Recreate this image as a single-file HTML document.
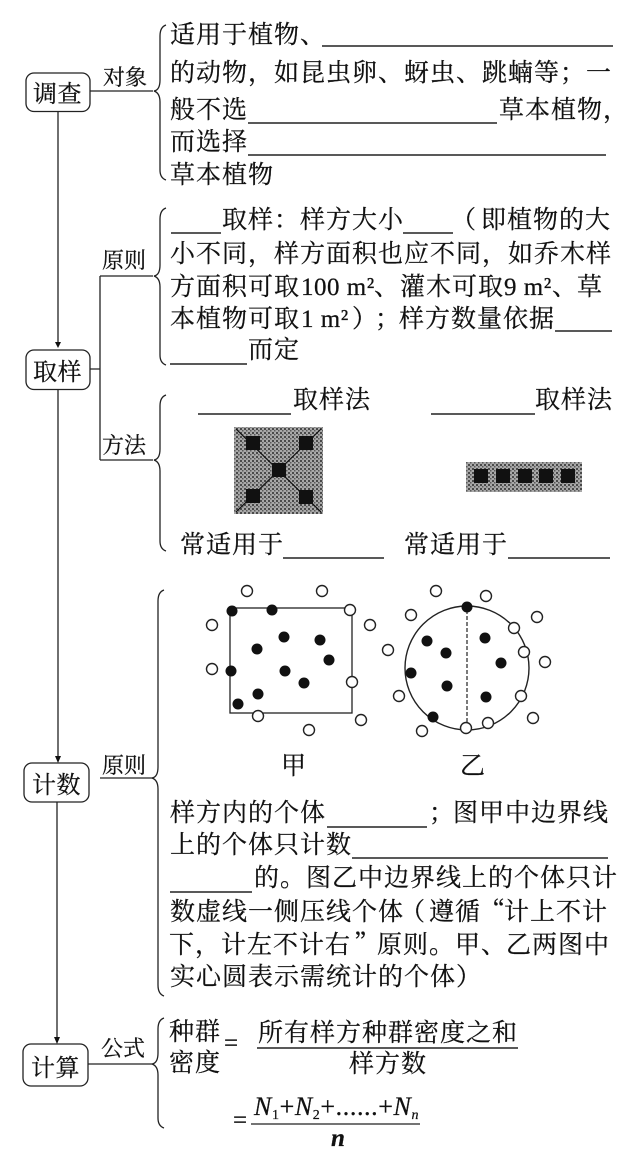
<!DOCTYPE html>
<html><head><meta charset="utf-8"><style>
html,body{margin:0;padding:0;background:#fff}
svg{display:block}
text{font-family:"Liberation Serif","Noto Serif CJK SC",serif;font-size:25px;fill:#111;letter-spacing:1px;stroke:#111;stroke-width:.25px}
.j{font-family:"Noto Serif CJK SC",serif}
.l{font-size:22px;letter-spacing:0}
.b{font-size:24px;letter-spacing:.5px}
.u{stroke:#222;stroke-width:1.5;fill:none}
.c{stroke:#222;stroke-width:1.3;fill:none}
.o{fill:#fff;stroke:#222;stroke-width:1.4}
.k{fill:#111}
.i{font-style:italic}
</style></head><body>
<svg width="639" height="1160" viewBox="0 0 639 1160" xmlns="http://www.w3.org/2000/svg">
<defs>
<pattern id="n" width="4" height="4" patternUnits="userSpaceOnUse"><rect width="4" height="4" fill="#a8a8a8"/><rect width="2" height="2" fill="#4a4a4a"/><rect x="2" y="2" width="1.5" height="1.5" fill="#5a5a5a"/></pattern>
</defs>
<rect width="639" height="1160" fill="#fff"/>

<!-- boxes -->
<g class="c" fill="none">
<rect x="26" y="73" width="64" height="38.5" rx="8"/>
<rect x="26" y="350" width="64" height="39.5" rx="8"/>
<rect x="24" y="763" width="65" height="39" rx="8"/>
<rect x="23" y="1044" width="65" height="42" rx="8"/>
<path d="M58 112V342M58 390V758M57 802V1040"/>
<path d="M90 91H153M90 369H100M100 276V460M100 276H153M100 460H153M88 1064H152M100 778H153"/>
<!-- braces -->
<path d="M166 25Q160 27 160 36V80Q160 90 154 91Q160 93 160 102V170Q160 178 166 180"/>
<path d="M166 208Q160 210 160 219V265Q160 275 154 276Q160 278 160 287V355Q160 363 166 365"/>
<path d="M166 395Q160 397 160 406V449Q160 459 154 460Q160 462 160 471V541Q160 549 166 551"/>
<path d="M164 590Q158 592 158 601V767Q158 777 152 778Q158 780 158 789V985Q158 994 164 996"/>
<path d="M164 1018Q158 1020 158 1029V1053Q158 1063 152 1064Q158 1066 158 1075V1118Q158 1126 164 1128"/>
</g>
<path class="k" d="M55 342H61L58 348ZM55 756H61L58 763ZM54 1037H60L57 1044Z"/>
<text class="b" x="33" y="102">调查</text>
<text class="b" x="33" y="380">取样</text>
<text class="b" x="32" y="793">计数</text>
<text class="b" x="31" y="1076">计算</text>
<text class="l" x="103" y="85">对象</text>
<text class="l" x="102" y="268">原则</text>
<text class="l" x="102" y="453">方法</text>
<text class="l" x="102" y="773">原则</text>
<text class="l" x="101" y="1056">公式</text>

<!-- section 1 -->
<text x="170" y="43">适用于植物、</text>
<text x="170" y="81">的动物，如昆虫卵、蚜虫、跳蝻等；一</text>
<text x="170" y="118">般不选</text>
<text x="499" y="118">草本植物，</text>
<text x="170" y="150">而选择</text>
<text x="170" y="183">草本植物</text>
<path class="u" d="M322 46H613M248 123H497M248 155H606"/>

<!-- section 2 -->
<text x="222" y="228">取样：样方大小</text>
<text x="451" y="228">（</text>
<text x="481" y="228">即植物的大</text>
<text x="170" y="262">小不同，样方面积也应不同，如乔木样</text>
<text x="170" y="295">方面积可取</text>
<text x="301" y="295" style="letter-spacing:.5px">100 m²</text>
<text x="374" y="295">、</text>
<text x="400" y="295">灌木可取</text>
<text x="504" y="295" style="letter-spacing:.5px">9 m²</text>
<text x="552" y="295">、</text>
<text x="577" y="295">草</text>
<text x="170" y="327">本植物可取</text>
<text x="301" y="327" style="letter-spacing:.5px">1 m²</text>
<text x="352" y="327">）</text>
<text x="375" y="327">；</text>
<text x="399" y="327">样方数量依据</text>
<text x="248" y="358">而定</text>
<path class="u" d="M171 233H221M403 233H453M555 331H612M170 364H247"/>

<!-- methods -->
<text x="293" y="408">取样法</text>
<text x="535" y="408">取样法</text>
<path class="u" d="M198 414H291M431 414H535M283 558H384M508 558H610"/>
<text x="180" y="553">常适用于</text>
<text x="404" y="553">常适用于</text>
<rect x="234" y="427" width="89" height="87" fill="url(#n)"/>
<path d="M236 429L321 512M321 429L236 512" stroke="#111" stroke-width="1.2"/>
<g class="k">
<rect x="246" y="436" width="14" height="14"/><rect x="299" y="436" width="14" height="14"/>
<rect x="272" y="463" width="14" height="14"/><rect x="246" y="489" width="14" height="14"/><rect x="299" y="490" width="14" height="14"/>
</g>
<rect x="466" y="462" width="116" height="30" fill="url(#n)"/>
<g class="k">
<rect x="474" y="469" width="14" height="14"/><rect x="496" y="469" width="14" height="14"/><rect x="518" y="469" width="14" height="14"/><rect x="539" y="469" width="14" height="14"/><rect x="561" y="469" width="14" height="14"/>
</g>

<!-- figures -->
<rect x="230" y="608" width="122" height="105" fill="none" stroke="#222" stroke-width="1.3"/>
<circle cx="467" cy="668" r="62" fill="none" stroke="#222" stroke-width="1.4"/>
<path d="M467 610V726" stroke="#222" stroke-width="1.2" stroke-dasharray="4 2"/>
<g class="k">
<circle cx="232" cy="611" r="5.5"/><circle cx="272" cy="610" r="5.5"/><circle cx="284" cy="637" r="5.5"/><circle cx="320" cy="640" r="5.5"/><circle cx="257" cy="649" r="5.5"/><circle cx="329" cy="660" r="5.5"/><circle cx="231" cy="671" r="5.5"/><circle cx="285" cy="671" r="5.5"/><circle cx="304" cy="683" r="5.5"/><circle cx="258" cy="694" r="5.5"/><circle cx="238" cy="704" r="5.5"/>
<circle cx="467" cy="607" r="5.5"/><circle cx="427" cy="641" r="5.5"/><circle cx="446" cy="653" r="5.5"/><circle cx="485" cy="638" r="5.5"/><circle cx="501" cy="663" r="5.5"/><circle cx="411" cy="673" r="5.5"/><circle cx="447" cy="686" r="5.5"/><circle cx="486" cy="697" r="5.5"/><circle cx="433" cy="717" r="5.5"/>
</g>
<g class="o">
<circle cx="247" cy="591" r="5.5"/><circle cx="322" cy="591" r="5.5"/><circle cx="212" cy="625" r="5.5"/><circle cx="370" cy="625" r="5.5"/><circle cx="350" cy="610" r="5.5"/><circle cx="212" cy="669" r="5.5"/><circle cx="352" cy="682" r="5.5"/><circle cx="258" cy="716" r="5.5"/><circle cx="361" cy="720" r="5.5"/><circle cx="309" cy="730" r="5.5"/>
<circle cx="436" cy="591" r="5.5"/><circle cx="486" cy="596" r="5.5"/><circle cx="411" cy="615" r="5.5"/><circle cx="537" cy="617" r="5.5"/><circle cx="514" cy="628" r="5.5"/><circle cx="524" cy="652" r="5.5"/><circle cx="388" cy="650" r="5.5"/><circle cx="545" cy="662" r="5.5"/><circle cx="399" cy="696" r="5.5"/><circle cx="521" cy="696" r="5.5"/><circle cx="533" cy="718" r="5.5"/><circle cx="488" cy="723" r="5.5"/><circle cx="466" cy="728" r="5.5"/><circle cx="422" cy="731" r="5.5"/>
</g>
<text x="281" y="774">甲</text>
<text x="460" y="774">乙</text>

<!-- section 4 -->
<text x="170" y="821">样方内的个体</text>
<text x="429" y="821">；</text>
<text x="453" y="821">图甲中边界线</text>
<text x="170" y="853">上的个体只计数</text>
<text x="254" y="886">的。图乙中边界线上的个体只计</text>
<text x="170" y="920">数虚线一侧压线个体</text>
<text x="400" y="920">（</text>
<text x="429" y="920">遵循</text>
<text class="j" x="480" y="920">“</text>
<text x="504" y="920">计上不计</text>
<text x="169" y="953">下，计左不计右</text>
<text class="j" x="354" y="953">”</text>
<text x="377" y="953">原则。</text>
<text x="455" y="953">甲</text>
<text x="481" y="953">、</text>
<text x="506" y="953">乙两图中</text>
<text x="170" y="985">实心圆表示需统计的个体）</text>
<path class="u" d="M327 827H427M352 858H608M170 892H252"/>

<!-- formula -->
<text x="169" y="1040">种群</text>
<text x="169" y="1071">密度</text>
<text x="224" y="1051">=</text>
<text x="258" y="1041">所有样方种群密度之和</text>
<path d="M257 1048H518" stroke="#222" stroke-width="1.6"/>
<text x="349" y="1072">样方数</text>
<text x="233" y="1128">=</text>
<path d="M251 1124H420" stroke="#222" stroke-width="1.3"/>
<text x="254" y="1115" class="i" style="letter-spacing:.6px;font-size:26px">N<tspan font-size="14" dy="4" font-style="normal">1</tspan><tspan dy="-4" font-style="normal">+</tspan>N<tspan font-size="14" dy="4" font-style="normal">2</tspan><tspan dy="-4" font-style="normal">+......+</tspan>N<tspan font-size="14" dy="4">n</tspan></text>
<text x="331" y="1146" class="i" style="font-weight:bold">n</text>
</svg>
</body></html>
